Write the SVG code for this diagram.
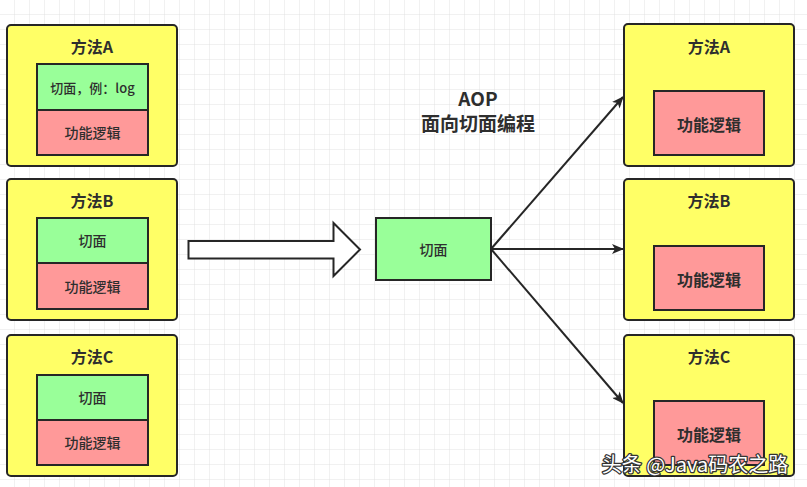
<svg xmlns="http://www.w3.org/2000/svg" width="807" height="487" viewBox="0 0 807 487">
<defs>
<pattern id="grid" width="15" height="15" patternUnits="userSpaceOnUse">
<path d="M15 0V15M0 15H15" fill="none" stroke="#e2e2e2" stroke-width="1"/>
</pattern>
<marker id="ah" viewBox="0 0 12 10" refX="11" refY="5" markerWidth="12" markerHeight="10" markerUnits="userSpaceOnUse" orient="auto">
<path d="M0 0L12 5L0 10L3 5Z" fill="#262626"/>
</marker>
<style>
.outer{fill:#ffff66;stroke:#262626;stroke-width:2}
.green{fill:#99ff99;stroke:#262626;stroke-width:2}
.red{fill:#ff9999;stroke:#262626;stroke-width:2}
text{font-family:"Noto Sans CJK SC","Liberation Sans",sans-serif;fill:#2e2e2e;text-anchor:middle;dominant-baseline:central}
.title{font-size:16px;font-weight:bold}
.lbl{font-size:14px;font-weight:500}
.lblb{font-size:16px;font-weight:bold}
.conn{stroke:#262626;stroke-width:2;fill:none}
</style>
</defs>
<rect width="807" height="487" fill="#ffffff"/>
<rect width="807" height="487" fill="url(#grid)"/>

<g id="methodA-left">
<rect class="outer" x="7" y="25" width="170" height="141" rx="4"/>
<text class="title" x="92" y="46">方法A</text>
<rect class="green" x="37" y="64" width="111" height="46"/>
<text class="lbl" x="92.5" y="87" style="font-size:13px">切面，例：log</text>
<rect class="red" x="37" y="110" width="111" height="45"/>
<text class="lbl" x="92.5" y="132">功能逻辑</text>
</g>

<g id="methodB-left">
<rect class="outer" x="7" y="179" width="170" height="141" rx="4"/>
<text class="title" x="92" y="200">方法B</text>
<rect class="green" x="37" y="218" width="111" height="45"/>
<text class="lbl" x="92.5" y="240">切面</text>
<rect class="red" x="37" y="263" width="111" height="46"/>
<text class="lbl" x="92.5" y="286">功能逻辑</text>
</g>

<g id="methodC-left">
<rect class="outer" x="7" y="335" width="170" height="141" rx="4"/>
<text class="title" x="92" y="356">方法C</text>
<rect class="green" x="37" y="375" width="111" height="45"/>
<text class="lbl" x="92.5" y="397">切面</text>
<rect class="red" x="37" y="420" width="111" height="45"/>
<text class="lbl" x="92.5" y="442">功能逻辑</text>
</g>

<g id="big-arrow">
<path d="M188.5 241H333.5V223L360 249.5L333.5 276V258.5H188.5Z" fill="#ffffff" stroke="#262626" stroke-width="2" stroke-linejoin="miter"/>
</g>

<g id="aop-label">
<text x="478" y="97" style="font-size:19px;font-weight:bold">AOP</text>
<text x="478" y="122" style="font-size:19px;font-weight:bold">面向切面编程</text>
</g>

<g id="aspect">
<rect class="green" x="376" y="218" width="115" height="62"/>
<text class="lbl" x="433.5" y="249">切面</text>
</g>

<g id="methodA-right">
<rect class="outer" x="624" y="24" width="170" height="142" rx="4"/>
<text class="title" x="709" y="46">方法A</text>
<rect class="red" x="654" y="91" width="110" height="64"/>
<text class="lblb" x="709" y="124">功能逻辑</text>
</g>

<g id="methodB-right">
<rect class="outer" x="624" y="179" width="170" height="141" rx="4"/>
<text class="title" x="709" y="200">方法B</text>
<rect class="red" x="654" y="246" width="110" height="64"/>
<text class="lblb" x="709" y="279">功能逻辑</text>
</g>

<g id="methodC-right">
<rect class="outer" x="624" y="335" width="170" height="141" rx="4"/>
<text class="title" x="709" y="356">方法C</text>
<rect class="red" x="654" y="401" width="110" height="64"/>
<text class="lblb" x="709" y="434">功能逻辑</text>
</g>

<g id="connectors">
<line class="conn" x1="491" y1="249" x2="623" y2="97" marker-end="url(#ah)"/>
<line class="conn" x1="491" y1="249" x2="623" y2="249" marker-end="url(#ah)"/>
<line class="conn" x1="491" y1="249" x2="623" y2="403" marker-end="url(#ah)"/>
</g>

<g id="watermark">
<text x="695" y="463" style="font-size:20px;fill:#ffffff;stroke:#333333;stroke-width:2.5;paint-order:stroke;stroke-linejoin:round">头条 @Java码农之路</text>
</g>
</svg>
